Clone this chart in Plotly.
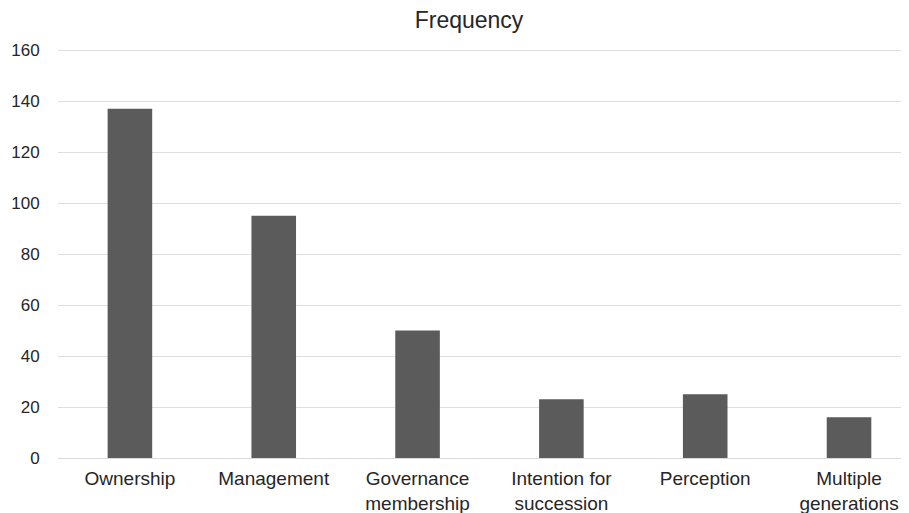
import plotly.graph_objects as go

categories = ["Ownership", "Management", "Governance<br>membership",
              "Intention for<br>succession", "Perception", "Multiple<br>generations"]
frequency = [137, 95, 50, 23, 25, 16]
y_ticks = [0, 20, 40, 60, 80, 100, 120, 140, 160]

fig = go.Figure(go.Bar(
    x=categories, y=frequency,
    marker=dict(color="#5b5b5b", line=dict(width=0)),
    width=0.31,
))

# page body has an 8px default margin, so the figure is sized to fit the window
fig.update_layout(
    width=901, height=505,
    margin=dict(l=50, r=0, t=41, b=55, autoexpand=False),
    paper_bgcolor="white", plot_bgcolor="white",
    font=dict(family="Liberation Sans, Arial, sans-serif", color="#262626"),
    title=dict(text="Frequency", x=0.483, xref="paper", xanchor="center",
               y=1 - 4 / 505, yref="container", yanchor="top",
               font=dict(size=23, color="#262626")),
    showlegend=False,
)
fig.update_xaxes(
    type="category", range=[-0.5, 5.417], automargin=False,
    showgrid=False, showline=False, zeroline=False,
    ticks="", ticklabelstandoff=7,
    tickfont=dict(size=19, color="#262626"),
)
fig.update_yaxes(
    range=[0, 160.4], tickvals=y_ticks, automargin=False,
    showgrid=True, gridcolor="#dedede", gridwidth=1,
    zeroline=True, zerolinecolor="#d9d9d9", zerolinewidth=1,
    showline=False,
    ticks="outside", ticklen=14, tickcolor="rgba(0,0,0,0)",
    tickfont=dict(size=17, color="#262626"),
)

fig.write_html("out.html")
